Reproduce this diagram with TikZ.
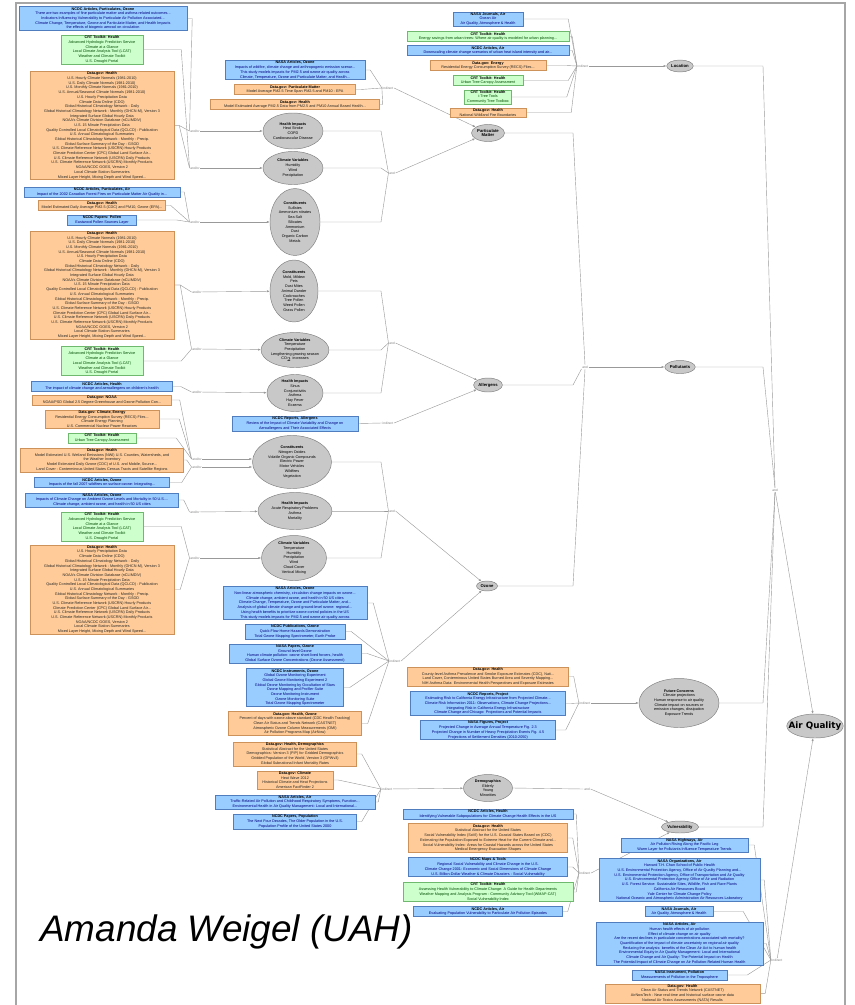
\documentclass[tikz,border=0pt]{standalone}
\usepackage{fontspec}
\setmainfont{Liberation Sans}
\newfontfamily\headfont{DejaVu Sans}
\usetikzlibrary{shapes.geometric,arrows.meta,backgrounds}

\definecolor{srcblue}{RGB}{153,204,255}
\definecolor{srcblueline}{RGB}{80,125,190}
\definecolor{srcorange}{RGB}{255,204,153}
\definecolor{srcorangeline}{RGB}{205,145,90}
\definecolor{srcgreen}{RGB}{204,255,204}
\definecolor{srcgreenline}{RGB}{110,185,110}
\definecolor{topicgray}{RGB}{200,200,200}

\newcommand{\ttl}[1]{{\color{black}\bfseries #1}}
\newcommand{\crtlist}{\ttl{CRT Toolkit: Health}\\Advanced Hydrologic Prediction Service\\Climate at a Glance\\Local Climate Analysis Tool (LCAT)\\Weather and Climate Toolkit\\U.S. Drought Portal}
\newcommand{\cdoshort}{U.S. Hourly Precipitation Data\\Climate Data Online (CDO)\\Global Historical Climatology Network - Daily\\Global Historical Climatology Network - Monthly (GHCN-M), Version 3\\Integrated Surface Global Hourly Data\\NOAA's Climate Division Database (nCLIMDIV)\\U.S. 15 Minute Precipitation Data\\Quality Controlled Local Climatological Data (QCLCD) - Publication\\U.S. Annual Climatological Summaries\\Global Historical Climatology Network - Monthly - Precip.\\Global Surface Summary of the Day - GSOD\\U.S. Climate Reference Network (USCRN) Hourly Products\\Climate Prediction Center (CPC) Global Land Surface Air...\\U.S. Climate Reference Network (USCRN) Daily Products\\U.S. Climate Reference Network (USCRN) Monthly Products\\NOAA/NCDC GOES, Version 2\\Local Climate Station Summaries\\Mixed Layer Height, Mixing Depth and Wind Speed...}
\newcommand{\cdolist}{U.S. Hourly Climate Normals (1981-2010)\\U.S. Daily Climate Normals (1981-2010)\\U.S. Monthly Climate Normals (1981-2010)\\U.S. Annual/Seasonal Climate Normals (1981-2010)\\\cdoshort}

\begin{document}
\begin{tikzpicture}[
    x=0.03cm, y=-0.03cm,
    >={Latex[length=2.4pt,width=1.8pt]},
    src/.style={draw, line width=0.4pt, inner sep=0.7pt, align=center,
      font=\fontsize{3.2}{4}\selectfont},
    bluebox/.style={src, fill=srcblue, draw=srcblueline, text=blue!50!black},
    orangebox/.style={src, fill=srcorange, draw=srcorangeline, text=black!85},
    greenbox/.style={src, fill=srcgreen, draw=srcgreenline, text=green!30!black},
    bw/.style={minimum width=#1*0.03cm},
    bh/.style={minimum height=#1*0.03cm},
    topic/.style={ellipse, draw=gray, fill=topicgray, inner sep=0pt, align=center,
      font=\fontsize{3.2}{4}\selectfont},
    concept/.style={ellipse, draw=gray, fill=topicgray, inner sep=0.5pt, align=center,
      font=\fontsize{3.6}{4.2}\selectfont\bfseries},
    hub/.style={inner sep=0.5pt, text=gray, font=\fontsize{2.8}{3}\selectfont},
    link/.style={draw=gray!80, line width=0.35pt},
  ]
  \useasboundingbox (0,0) rectangle (854,1005);
  \clip (0,0) rectangle (854,1005);

  \coordinate (colM) at (381,0);
  \coordinate (colR) at (573,0);
  \coordinate (colRR) at (763,0);

  % frame and credit
  \draw[gray!70, line width=1.6pt] (16,1010) -- (16,3) -- (845,3) -- (845,1010);
  \node[anchor=west, font=\fontsize{31.5}{36}\selectfont\itshape] (credit) at (36,932) {Amanda Weigel (UAH)};

  % sources, left column
  \node[bluebox, bw=168] (a1) at (103,18.5) {\ttl{NCDC Articles, Particulates, Ozone}\\There are two examples of fine particulate matter and asthma-related outcomes...\\Indicators Influencing Vulnerability to Particulate Air Pollution Associated...\\Climate Change, Temperature, Ozone and Particulate Matter, and Health Impacts\\the effects of biogenic aerosol on circulation};
  \node[greenbox, bw=82] (a2) at (102,49.5) {\crtlist};
  \node[orangebox, bw=144] (a3) at (102,125.5) {\ttl{Data.gov: Health}\\\cdolist};
  \node[bluebox, bw=156] (a4) at (102,192) {\ttl{NCDC Articles, Particulates, Air}\\Impact of the 2002 Canadian Forest Fires on Particulate Matter Air Quality in...};
  \node[orangebox, bw=127] (a5) at (102,205.5) {\ttl{Data.gov: Health}\\Model Estimated Daily Average PM2.5 (CDC) and PM10, Ozone (EPA)...};
  \node[bluebox, bw=69] (a6) at (102,220) {\ttl{NCDC Papers: Pollen}\\Eastwood Pollen Sources Layer};
  \node[orangebox, bw=144] (a7) at (102,285) {\ttl{Data.gov: Health}\\\cdolist};
  \node[greenbox, bw=82] (b1) at (102,361) {\crtlist};
  \node[bluebox, bw=141] (b2) at (102,386.5) {\ttl{NCDC Articles, Health}\\The impact of climate change and aeroallergens on children's health};
  \node[orangebox, bw=139] (b3) at (102,400) {\ttl{Data.gov: NOAA}\\NOAA/PSD Global 2.5 Degree Greenhouse and Ozone Pollution Con...};
  \node[orangebox, bw=114] (b4) at (102,419) {\ttl{Data.gov: Climate, Energy}\\Residential Energy Consumption Survey (RECS) Files...\\Climate Energy Planning\\U.S. Commercial Nuclear Power Reactors};
  \node[greenbox, bw=68] (b5) at (102,438) {\ttl{CRT Toolkit: Health}\\Urban Tree Canopy Assessment};
  \node[orangebox, bw=163] (b6) at (102,460) {\ttl{Data.gov: Health}\\Model Estimated U.S. Wetland Emissions (NWI) U.S. Counties, Watersheds, and\\the Weather Inventory\\Model Estimated Daily Ozone (CDC) of U.S. and Mobile, Source...\\Land Cover - Conterminous United States Census Tracts and Satellite Regions};
  \node[bluebox, bw=135] (b7) at (102,482.5) {\ttl{NCDC Articles, Ozone}\\Impacts of the fall 2007 wildfires on surface ozone: Integrating...};
  \node[bluebox, bw=153] (f1) at (102,500) {\ttl{NASA Articles, Ozone}\\Impacts of Climate Change on Ambient Ozone Levels and Mortality in 50 U.S....\\Climate change, ambient ozone, and health in 50 US cities};
  \node[greenbox, bw=82] (f2) at (102,526.5) {\crtlist};
  \node[orangebox, bw=144] (f3) at (102,589.5) {\ttl{Data.gov: Health}\\\cdoshort};

  % junctions, left column
  \node[hub] (jA1) at (195,131) {and/or};
  \node[hub] (jA2) at (195,168) {and/or};
  \node[hub] (jA3) at (195,222) {and/or};
  \node[hub] (jB1) at (197,292) {and/or};
  \node[hub] (jB2) at (197,349) {and/or};
  \node[hub] (jB3) at (197,392) {and/or};
  \node[hub] (jC1) at (197,459) {and/or};
  \node[hub] (jC2) at (197,467) {and/or};
  \node[hub] (jC3) at (195,512) {and/or};
  \node[hub] (jC4) at (195,558) {and/or};

  % middle column
  \node[bluebox, bw=140] (d1) at (295,70) {\ttl{NASA Articles, Ozone}\\Impacts of wildfire, climate change and anthropogenic emission scenar...\\This study models impacts for PM2.5 and ozone air quality across\\Climate, Temperature, Ozone and Particulate Matter, and Health...};
  \node[orangebox, bw=121] (d2) at (295,89.5) {\ttl{Data.gov: Particulate Matter}\\Model Average PM2.5 Time Span PM2.5 and PM10 - EPA};
  \node[orangebox, bw=169] (d3) at (295,104.5) {\ttl{Data.gov: Health}\\Model Estimated Average PM2.5 Data from PM2.5 and PM10 Annual Based Health...};

  \node[topic, bw=60, bh=36] (hiA) at (293,131) {\ttl{Health Impacts}\\Heat Stroke\\COPD\\Cardiovascular Disease};
  \node[topic, bw=60, bh=33] (cvA) at (293,168) {\ttl{Climate Variables}\\Humidity\\Wind\\Precipitation};
  \node[topic, bw=50, bh=67] (coA) at (295,222) {\ttl{Constituents}\\Sulfates\\Ammonium nitrates\\Sea Salt\\Silicates\\Ammonium\\Dust\\Organic Carbon\\Metals};
  \node[topic, bw=48, bh=62] (coB) at (294,291) {\ttl{Constituents}\\Mold, Mildew\\Pets\\Dust Mites\\Animal Dander\\Cockroaches\\Tree Pollen\\Weed Pollen\\Grass Pollen};
  \node[topic, bw=66, bh=35] (cvB) at (295,350) {\ttl{Climate Variables}\\Temperature\\Precipitation\\Lengthening growing season\\CO$_2$ increases};
  \node[topic, bw=56, bh=37] (hiB) at (295,393) {\ttl{Health Impacts}\\Sinus\\Conjunctivitis\\Asthma\\Hay Fever\\Eczema};
  \node[bluebox, bw=126] (c1) at (295,423.5) {\ttl{NCDC Reports, Allergens}\\Review of the Impact of Climate Variability and Change on\\Aeroallergens and Their Associated Effects};
  \node[topic, bw=79, bh=53] (coC) at (292,462) {\ttl{Constituents}\\Nitrogen Oxides\\Volatile Organic Compounds\\Electric Power\\Motor Vehicles\\Wildfires\\Vegetation};
  \node[topic, bw=74, bh=37] (hiC) at (295,511) {\ttl{Health Impacts}\\Acute Respiratory Problems\\Asthma\\Mortality};
  \node[topic, bw=65, bh=45] (cvC) at (294,558) {\ttl{Climate Variables}\\Temperature\\Humidity\\Precipitation\\Wind\\Cloud Cover\\Vertical Mixing};

  \node[bluebox, bw=144] (g1) at (295,603) {\ttl{NASA Articles, Ozone}\\Non-linear atmospheric chemistry, circulation change impacts on ozone...\\Climate change, ambient ozone, and health in 50 US cities\\Climate Change, Temperature, Ozone and Particulate Matter, and...\\Analysis of global climate change and ground-level ozone: regional...\\Using health benefits to prioritize ozone control policies in the US\\This study models impacts for PM2.5 and ozone air quality across};
  \node[bluebox, bw=100] (g2) at (295,631.5) {\ttl{NCDC Publications, Ozone}\\Quick-Flow Home Hazards Demonstration\\Total Ozone Mapping Spectrometer, Earth Probe};
  \node[bluebox, bw=132] (g3) at (295,653.5) {\ttl{NASA Papers, Ozone}\\Ground-level Ozone\\Human climate pollution: ozone short-lived forcers, health\\Global Surface Ozone Concentrations (Ozone Assessment)};
  \node[bluebox, bw=97] (g4) at (295,687.5) {\ttl{NCDC Instruments, Ozone}\\Global Ozone Monitoring Experiment\\Global Ozone Monitoring Experiment 2\\Global Ozone Monitoring by Occultation of Stars\\Ozone Mapping and Profiler Suite\\Ozone Monitoring Instrument\\Ozone Monitoring Suite\\Total Ozone Mapping Spectrometer};
  \node[orangebox, bw=133] (g5) at (295,723.5) {\ttl{Data.gov: Health, Ozone}\\Percent of days with ozone above standard (CDC Health Tracking)\\Clean Air Status and Trends Network (CASTNET)\\Atmospheric Ozone Column Measurements (OMI)\\Air Pollution Programs Map (AirNow)};
  \node[orangebox, bw=123] (h1) at (295,754) {\ttl{Data.gov: Health, Demographics}\\Statistical Abstract for the United States\\Demographics: Version 3 (PIP) for Gridded Demographics\\Gridded Population of the World, Version 3 (GPWv3)\\Global Subnational Infant Mortality Rates};
  \node[orangebox, bw=76] (h2) at (295,780) {\ttl{Data.gov: Climate}\\Heat Wave 2012\\Historical Climate and Heat Projections\\American FactFinder 2};
  \node[bluebox, bw=160] (h3) at (295,802) {\ttl{NASA Articles, Air}\\Traffic-Related Air Pollution and Childhood Respiratory Symptoms, Function...\\Environmental Health in Air Quality Management: Local and International...};
  \node[bluebox, bw=123] (h4) at (295,821.5) {\ttl{NCDC Papers, Population}\\The Next Four Decades, The Older Population in the U.S.\\Population Profile of the United States 2000};

  % junctions, middle column
  \node[hub] (indA) at (388,88) {indirect};
  \node[hub] (andA) at (392,173) {and};
  \node[hub] (andB) at (392,343) {and};
  \node[hub] (indB) at (388,423) {indirect};
  \node[hub] (andC) at (392,511) {and};
  \node[hub] (indC) at (395,661) {indirect};
  \node[hub] (indD) at (387,789) {indirect};

  % right middle column
  \node[bluebox, bw=70] (e1) at (488,19) {\ttl{NASA Journals, Air}\\Ocean Air\\Air Quality, Atmosphere \& Health};
  \node[greenbox, bw=162] (e2) at (488,36.5) {\ttl{CRT Toolkit: Health}\\Energy savings from urban trees: Where air quality is modeled for urban planning...};
  \node[bluebox, bw=162] (e3) at (488,50.5) {\ttl{NCDC Articles, Air}\\Downscaling climate change scenarios of urban heat island intensity and air...};
  \node[orangebox, bw=116] (e4) at (488,65.5) {\ttl{Data.gov: Energy}\\Residential Energy Consumption Survey (RECS) Files...};
  \node[greenbox, bw=70] (e5) at (488,80.5) {\ttl{CRT Toolkit: Health}\\Urban Tree Canopy Assessment};
  \node[greenbox, bw=47] (e6) at (488,97) {\ttl{CRT Toolkit: Health}\\i-Tree Tools\\Community Tree Toolbox};
  \node[orangebox, bw=76] (e7) at (488,112.5) {\ttl{Data.gov: Health}\\National Wildland Fire Boundaries};

  \node[concept, bw=33, bh=17] (pm) at (488,133) {Particulate\\Matter};
  \node[concept, bw=25, bh=14] (al) at (488,385) {Allergens};
  \node[concept, bw=21, bh=10] (oz) at (487,586) {Ozone};
  \node[topic, bw=49, bh=27] (dem) at (488,788) {\ttl{Demographics}\\Elderly\\Young\\Minorities};

  \node[orangebox, bw=161] (k1) at (488,676.5) {\ttl{Data.gov: Health}\\County-level Asthma Prevalence and Smoke Exposure Estimates (CDC), Nati...\\Land Cover, Conterminous United States Burned Area and Severity Mapping...\\NIH Asthma Data: Environmental Health Perspectives and Exposure Estimates};
  \node[bluebox, bw=155] (k2) at (488,703.5) {\ttl{NCDC Reports, Project}\\Estimating Risk to California Energy Infrastructure from Projected Climate...\\Climate Risk Information 2011: Observations, Climate Change Projections...\\Integrating Risk in California Energy Infrastructure\\Climate Change and Chicago: Projections and Potential Impacts};
  \node[bluebox, bw=135] (k3) at (488,730) {\ttl{NASA Figures, Project}\\Projected Change in Average Annual Temperature Fig. 2.3\\Projected Change in Number of Heavy Precipitation Events Fig. 4.5\\Projections of Settlement Densities (2010-2050)};

  \node[bluebox, bw=170] (i1) at (488,814) {\ttl{NCDC Articles, Health}\\Identifying Vulnerable Subpopulations for Climate Change Health Effects in the US};
  \node[orangebox, bw=159] (i2) at (488,838) {\ttl{Data.gov: Health}\\Statistical Abstract for the United States\\Social Vulnerability Index (SoVI) for the U.S. Coastal States Based on (CDC)\\Estimating the Population Exposed to Extreme Heat for the Current Climate and...\\Social Vulnerability Index: Areas for Coastal Hazards across the United States\\Medical Emergency Evacuation Shapes};
  \node[bluebox, bw=159] (i3) at (488,867) {\ttl{NCDC Maps \& Tools}\\Regional Social Vulnerability and Climate Change in the U.S.\\Climate Change 2001: Economic and Social Dimensions of Climate Change\\U.S. Billion-Dollar Weather \& Climate Disasters - Social Vulnerability};
  \node[greenbox, bw=170] (i4) at (488,892) {\ttl{CRT Toolkit: Health}\\Assessing Health Vulnerability to Climate Change: A Guide for Health Departments\\Weather Mapping and Analysis Program - Community Advisory Tool (WMAP-CAT)\\Social Vulnerability Index};
  \node[bluebox, bw=149] (i5) at (488,911.5) {\ttl{NCDC Articles, Air}\\Evaluating Population Vulnerability to Particulate Air Pollution Episodes};

  % junctions, right middle column
  \node[hub] (indE) at (583,66) {indirect};
  \node[hub] (andP) at (585,367) {and};
  \node[hub] (indF) at (585,703) {indirect};
  \node[hub] (andV) at (587,789) {and};
  \node[hub] (indG) at (585,873) {indirect};

  % right column
  \node[concept, bw=26, bh=12] (loc) at (680,66) {Location};
  \node[concept, bw=27, bh=13] (pol) at (680,367) {Pollutants};
  \node[topic, bw=80, bh=49] (fut) at (679,703) {\ttl{Future Concerns}\\Climate projections\\Human response to air quality\\Climate impact on sources or\\emission changes, dissipation\\Exposure Trends};
  \node[concept, bw=35, bh=12] (vul) at (680,827) {Vulnerability};

  \node[bluebox, bw=127] (j1) at (684.5,845) {\ttl{NASA Highways, Air}\\Air Pollution Rising Along the Pacific Leg\\Warm Layer for Pollutants Influence Temperature Trends};
  \node[bluebox, bw=161] (j2) at (679.5,880) {\ttl{NASA Organizations, Air}\\Harvard T.H. Chan School of Public Health\\U.S. Environmental Protection Agency, Office of Air Quality Planning and...\\U.S. Environmental Protection Agency, Office of Transportation and Air Quality\\U.S. Environmental Protection Agency, Office of Air and Radiation\\U.S. Forest Service: Sustainable Sites, Wildlife, Fish and Rare Plants\\California Air Resources Board\\Yale Center for Climate Change Policy\\National Oceanic and Atmospheric Administration Air Resources Laboratory};
  \node[bluebox, bw=68] (j3) at (679,911.5) {\ttl{NASA Journals, Air}\\Air Quality, Atmosphere \& Health};
  \node[bluebox, bw=167] (j4) at (679.5,943.5) {\ttl{NASA Articles, Air}\\Human health effects of air pollution\\Effect of climate change on air quality\\Are the recent declines in particulate concentrations associated with mortality?\\Quantification of the impact of climate uncertainty on regional air quality\\Reducing the analysis: benefits of the Clean Air Act to human health\\Environmental Equity in Air Quality Management: Local and International\\Climate Change and Air Quality: The Potential Impact on Health\\The Potential Impact of Climate Change on Air Pollution-Related Human Health};
  \node[bluebox, bw=95] (j5) at (679.5,975) {\ttl{NASA Instrument, Pollution}\\Measurements of Pollution in the Troposphere};
  \node[orangebox, bw=155, anchor=north] (j6) at (682.5,983.5) {\ttl{Data.gov: Health}\\Clean Air Status and Trends Network (CASTNET)\\AirNowTech - Near real-time and historical surface ozone data\\National Air Toxics Assessments (NATA) Results};

  \node[hub] (andQ) at (775,490) {and};
  \node[hub] (indH) at (777,960) {indirect};
  \node[ellipse, draw=gray, fill=topicgray, inner xsep=-5.5pt, inner ysep=0pt, bw=56, bh=24,
    font=\headfont\fontsize{7.5}{9}\selectfont\bfseries] (aq) at (815,726) {Air Quality};

  \begin{scope}[on background layer]
    \fill[white] (0,0) rectangle (854,1005);
    % particulate matter
    \draw[link] (a1.east) -- ++(5,0) -- (jA1.west);
    \draw[link] (a3.east) -- ++(5,0) -- (jA1.west);
    \draw[link] (a2.east) -- ++(38,0) -- (jA2.west);
    \draw[link] (a3.east) -- ++(5,0) -- (jA2.west);
    \draw[link] (a4.east) -- ++(4,0) -- (jA3.west);
    \draw[link] (a5.east) -- ++(5,0) -- (jA3.west);
    \draw[link] (a6.east) -- ++(40,0) -- (jA3.west);
    \draw[link,->] (jA1) -- (hiA);
    \draw[link,->] (jA2) -- (cvA);
    \draw[link,->] (jA3) -- (coA);
    \draw[link] (hiA.east) -- (hiA.east -| colM) -- (andA.west);
    \draw[link] (cvA.east) -- (cvA.east -| colM) -- (andA.west);
    \draw[link] (coA.east) -- (coA.east -| colM) -- (andA.west);
    \draw[link] (d1.east) -- ++(5,0) -- (indA.west);
    \draw[link] (d2.east) -- ++(5,0) -- (indA.west);
    \draw[link] (d3.east) -- ++(3,0) -- (indA.west);
    \draw[link,->] (indA.east) -- (pm);
    \draw[link,->] (andA.east) -- (pm);
    % allergens
    \draw[link] (a7.east) -- ++(6,0) -- (jB1.west);
    \draw[link] (a7.east) -- ++(6,0) -- (jB2.west);
    \draw[link] (b1.east) -- ++(38,0) -- (jB2.west);
    \draw[link] (b2.east) -- ++(8,0) -- (jB3.west);
    \draw[link,->] (jB1) -- (coB);
    \draw[link,->] (jB2) -- (cvB);
    \draw[link,->] (jB3) -- (hiB);
    \draw[link] (coB.east) -- (coB.east -| colM) -- (andB.west);
    \draw[link] (cvB.east) -- (cvB.east -| colM) -- (andB.west);
    \draw[link] (hiB.east) -- (hiB.east -| colM) -- (andB.west);
    \draw[link] (c1.east) -- (indB.west);
    \draw[link,->] (andB.east) -- (al);
    \draw[link,->] (indB.east) -- (al);
    % ozone
    \draw[link] (b3.east) -- ++(8,0) -- (jC1.west);
    \draw[link] (b4.east) -- ++(20,0) -- (jC1.west);
    \draw[link] (b5.east) -- ++(40,0) -- (jC1.west);
    \draw[link] (b6.east) -- ++(3,0) -- (jC2.west);
    \draw[link] (b7.east) -- ++(12,0) -- (jC2.west);
    \draw[link] (f1.east) -- ++(5,0) -- (jC3.west);
    \draw[link] (f2.east) -- ++(38,0) -- (jC4.west);
    \draw[link] (f3.east) -- ++(6,0) -- (jC4.west);
    \draw[link,->] (jC1.east) -- (jC1.east -| coC.west);
    \draw[link,->] (jC2.east) -- (jC2.east -| coC.west);
    \draw[link,->] (jC3) -- (hiC);
    \draw[link,->] (jC4) -- (cvC);
    \draw[link] (coC.east) -- (coC.east -| colM) -- (andC.west);
    \draw[link] (hiC.east) -- (hiC.east -| colM) -- (andC.west);
    \draw[link] (cvC.east) -- (cvC.east -| colM) -- (andC.west);
    \draw[link] (g1.east) -- ++(6,0) -- (indC.west);
    \draw[link] (g2.east) -- ++(6,0) -- (indC.west);
    \draw[link] (g3.east) -- ++(6,0) -- (indC.west);
    \draw[link] (g4.east) -- ++(6,0) -- (indC.west);
    \draw[link] (g5.east) -- ++(6,0) -- (indC.west);
    \draw[link,->] (andC.east) -- (oz);
    \draw[link,->] (indC.east) -- (oz);
    % demographics and vulnerability
    \draw[link] (h1.east) -- ++(5,0) -- (indD.west);
    \draw[link] (h2.east) -- ++(5,0) -- (indD.west);
    \draw[link] (h3.east) -- ++(3,0) -- (indD.west);
    \draw[link] (h4.east) -- ++(5,0) -- (indD.west);
    \draw[link,->] (indD) -- (dem);
    \draw[link] (dem.east) -- (andV.west);
    \draw[link,->] (andV.east) -- (vul);
    \draw[link] (i1.east) -- ++(3,0) -- (indG.west);
    \draw[link] (i2.east) -- ++(5,0) -- (indG.west);
    \draw[link] (i3.east) -- ++(5,0) -- (indG.west);
    \draw[link] (i4.east) -- ++(3,0) -- (indG.west);
    \draw[link] (i5.east) -- ++(5,0) -- (indG.west);
    \draw[link,->] (indG.east) -- (vul);
    % location, future concerns
    \draw[link] (e1.east) -- ++(45,0) -- (indE.west);
    \draw[link] (e2.east) -- ++(3,0) -- (indE.west);
    \draw[link] (e3.east) -- ++(3,0) -- (indE.west);
    \draw[link] (e4.east) -- ++(20,0) -- (indE.west);
    \draw[link] (e5.east) -- ++(45,0) -- (indE.west);
    \draw[link] (e6.east) -- ++(55,0) -- (indE.west);
    \draw[link] (e7.east) -- ++(45,0) -- (indE.west);
    \draw[link,->] (indE) -- (loc);
    \draw[link] (k1.east) -- ++(5,0) -- (indF.west);
    \draw[link] (k2.east) -- ++(5,0) -- (indF.west);
    \draw[link] (k3.east) -- ++(10,0) -- (indF.west);
    \draw[link,->] (indF) -- (fut);
    % pollutants
    \draw[link] (pm.east) -- (pm.east -| colR) -- (andP.north);
    \draw[link] (al.east) -- (al.east -| colR) -- (andP.south west);
    \draw[link] (oz.east) -- (oz.east -| colR) -- (andP.south);
    \draw[link,->] (andP) -- (pol);
    % air quality
    \draw[link] (loc.east) -- (loc.east -| colRR) -- (andQ.north);
    \draw[link] (pol.east) -- (pol.east -| colRR) -- (andQ.north);
    \draw[link] (fut.east) -- (fut.east -| colRR) -- (andQ.south);
    \draw[link] (vul.east) -- (vul.east -| colRR) -- (andQ.south);
    \draw[link,->] (andQ) -- (aq);
    \draw[link] (j1.east) -- ++(6,0) -- (indH.west);
    \draw[link] (j2.east) -- ++(4,0) -- (indH.west);
    \draw[link] (j3.east) -- ++(30,0) -- (indH.west);
    \draw[link] (j4.east) -- ++(3,0) -- (indH.west);
    \draw[link] (j5.east) -- ++(20,0) -- (indH.west);
    \draw[link] (j6.east) -- ++(5,0) -- (indH.west);
    \draw[link,->] (indH) -- (aq);
  \end{scope}
\end{tikzpicture}
\end{document}
